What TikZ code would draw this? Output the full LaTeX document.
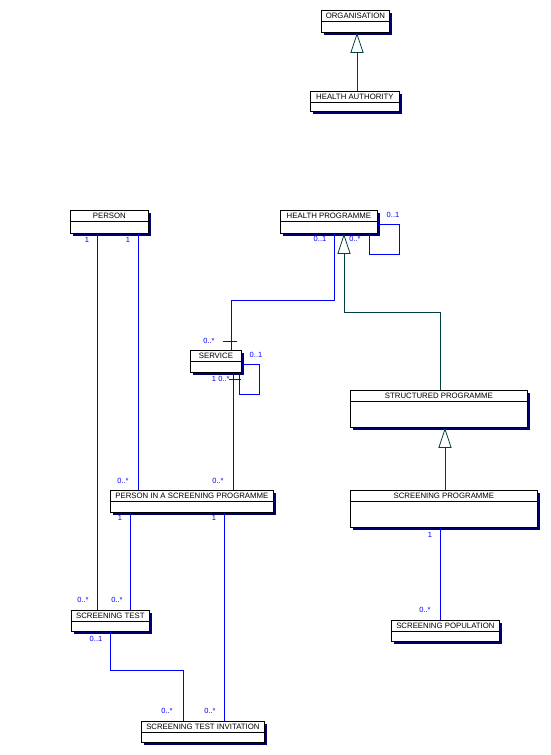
\documentclass[tikz,border=0pt]{standalone}
\usepackage{fontspec}
\setmainfont{Liberation Sans}
\usepackage{xcolor}
\definecolor{shadownavy}{HTML}{000070}
\definecolor{genteal}{HTML}{004040}
\usepackage{tikz}
\usetikzlibrary{arrows.meta,positioning,calc,shadows}
\tikzset{
  classbox/.style={draw=black,line width=0.8pt,fill=white,inner sep=0pt,anchor=north west,
    drop shadow={shadow xshift=3pt,shadow yshift=-3pt,fill=shadownavy,opacity=1}},
  classtitle/.style={inner sep=0pt,text height=5.6pt,text depth=0pt,font=\fontsize{7.8}{9}\selectfont},
  assoc/.style={line width=0.8pt,blue},
  genline/.style={line width=0.8pt,genteal,-{Triangle[open,length=20pt,width=13pt,fill=white]}},
  mult/.style={blue,inner sep=0pt,font=\fontsize{7.5}{9}\selectfont}
}
\begin{document}
\begin{tikzpicture}[x=1pt,y=1pt]
\useasboundingbox (0,0) rectangle (551,-755);
% class boxes: name/left/top/width/height/title
\foreach \n/\x/\y/\w/\h/\t in {
  org/321/-10/68/22/ORGANISATION,
  ha/310/-91/89/20/HEALTH AUTHORITY,
  person/70/-210/78/23/PERSON,
  hp/280/-210/97/23/HEALTH PROGRAMME,
  service/190/-350/51/22/SERVICE,
  strp/350/-390/177/37/STRUCTURED PROGRAMME,
  pisp/110/-490/163/22/PERSON IN A SCREENING PROGRAMME,
  scp/350/-490/187/37/SCREENING PROGRAMME,
  st/71/-610/78/21/SCREENING TEST,
  spop/391/-620/108/21/SCREENING POPULATION,
  sti/141/-721/123/21/SCREENING TEST INVITATION} {
  \node[classbox,minimum width=\w pt,minimum height=\h pt] (\n) at (\x,\y) {};
  \node[classtitle] (\n-title) at ([yshift=-6pt]\n.north) {\t};
  \draw[line width=0.8pt] (\n.north west) ++(0,-11.5) -- ++(\w,0);
}
% generalisations
\draw[genline] ([xshift=47pt]ha.north west) -- ([xshift=47pt]ha.north west |- org.south);
\draw[genline] ([xshift=90pt]strp.north west) -- ++(0,78) -| ([xshift=64pt]hp.south west);
\draw[genline] ([xshift=95pt]scp.north west) -- ([xshift=95pt]scp.north west |- strp.south);
% associations
\draw[assoc] ([xshift=27pt]person.south west) -- ([xshift=27pt]person.south west |- st.north);
\draw[assoc] ([xshift=68pt]person.south west) -- ([xshift=68pt]person.south west |- pisp.north);
\draw[assoc] ([xshift=54pt]hp.south west) -- ++(0,-67) -| ([xshift=41pt]service.north west);
\draw[assoc] ([yshift=-14pt]hp.north east) -- ++(22,0) -- ++(0,-30) -| ([xshift=-8pt]hp.south east);
\draw[assoc] ([yshift=-14pt]service.north east) -- ++(18,0) -- ++(0,-30) -| ([xshift=-2pt]service.south east);
\draw[assoc] ([xshift=43pt]service.south west) -- ([xshift=43pt]service.south west |- pisp.north);
\draw[assoc] ([shift={(33pt,9pt)}]service.north west) -- ++(14,0);
\draw[assoc] ([shift={(39pt,-7pt)}]service.south west) -- ++(12,0);
\draw[assoc] ([xshift=20pt]pisp.south west) -- ([xshift=20pt]pisp.south west |- st.north);
\draw[assoc] ([xshift=114pt]pisp.south west) -- ([xshift=114pt]pisp.south west |- sti.north);
\draw[assoc] ([xshift=39pt]st.south west) -- ++(0,-39) -| ([xshift=42pt]sti.north west);
\draw[assoc] ([xshift=90pt]scp.south west) -- ([xshift=90pt]scp.south west |- spop.north);
% multiplicities
\node[mult] (m1) at (87,-240) {1};
\node[mult] (m2) at (128,-240) {1};
\node[mult] (m3) at (320,-239) {0..1};
\node[mult] (m4) at (355,-239) {0..*};
\node[mult] (m5) at (393,-215) {0..1};
\node[mult] (m6) at (209,-341) {0..*};
\node[mult] (m7) at (256,-355) {0..1};
\node[mult] (m8) at (214,-379) {1};
\node[mult] (m9) at (224,-379) {0..*};
\node[mult] (m10) at (123,-481) {0..*};
\node[mult] (m11) at (218,-481) {0..*};
\node[mult] (m12) at (120,-518) {1};
\node[mult] (m13) at (214,-518) {1};
\node[mult] (m14) at (83,-600) {0..*};
\node[mult] (m15) at (117,-600) {0..*};
\node[mult] (m16) at (96,-639) {0..1};
\node[mult] (m17) at (167,-711) {0..*};
\node[mult] (m18) at (210,-711) {0..*};
\node[mult] (m19) at (430,-535) {1};
\node[mult] (m20) at (425,-610) {0..*};
\end{tikzpicture}
\end{document}
